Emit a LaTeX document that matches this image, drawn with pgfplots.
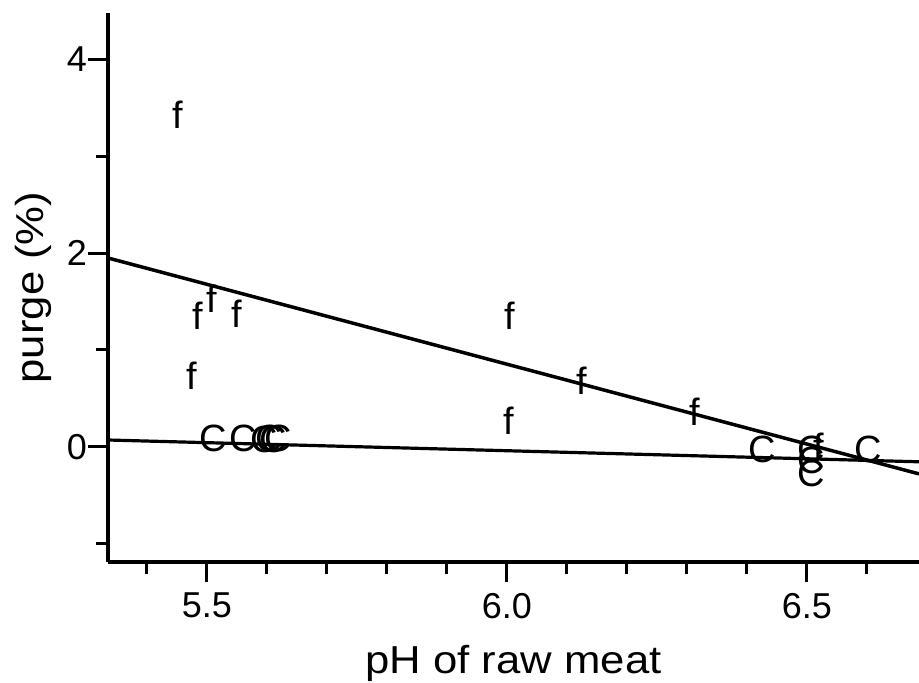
\documentclass[border=0pt]{standalone}
\usepackage{fontspec}
\setmainfont{Liberation Sans}
\newfontfamily\labelfont[FakeStretch=1.12]{Liberation Sans}
\usepackage{pgfplots}
\pgfplotsset{compat=1.18}

% f = fresh samples, C = cooked samples
\pgfplotstableread{
x y
5.452 3.43
5.485 1.35
5.508 1.53
5.550 1.37
5.475 0.73
6.005 1.35
6.003 0.27
6.125 0.68
6.313 0.36
6.520 0.00
}\fdata

\pgfplotstableread{
x y
5.510 0.09
5.560 0.09
5.595 0.08
5.603 0.09
5.611 0.08
5.619 0.09
6.425 -0.03
6.508 -0.03
6.508 -0.14
6.508 -0.27
6.603 -0.03
}\cdata

\begin{document}
\begin{tikzpicture}
\useasboundingbox (0,0) rectangle (459.5pt,341pt);
\begin{axis}[
    at={(54pt,60pt)}, anchor=south west,
    scale only axis,
    width=405.5pt, height=274.5pt,
    xmin=5.335, xmax=6.687,
    ymin=-1.19, ymax=4.48,
    axis x line*=bottom, axis y line*=left,
    axis line style={line width=1.6pt, black},
    xtick={5.5,6.0,6.5},
    minor xtick={5.4,5.6,5.7,5.8,5.9,6.1,6.2,6.3,6.4,6.6},
    ytick={0,2,4},
    minor ytick={-1,1,3},
    tick align=outside,
    major tick length=10pt, minor tick length=6pt,
    tick style={line width=1.5pt, black},
    /pgf/number format/assume math mode=true,
    xticklabel style={/pgf/number format/fixed, /pgf/number format/fixed zerofill, /pgf/number format/precision=1, yshift=-2pt},
    yticklabel style={xshift=3pt},
    ticklabel style={font=\fontsize{18}{18}\selectfont},
    xlabel={pH of raw meat},
    ylabel={purge (\%)},
    label style={font=\labelfont\fontsize{19.5}{20}\selectfont},
    xlabel style={at={(axis description cs:0.5,-0.185)}, anchor=center},
    ylabel style={at={(axis description cs:-0.092,0.5)}, anchor=center},
]
\addplot[black, line width=1.75pt, mark=none] coordinates {(5.335,1.95) (6.687,-0.28)};
\addplot[black, line width=1.6pt, mark=none] coordinates {(5.335,0.07) (6.687,-0.155)};
\addplot[only marks, mark=text, text mark={f}, text mark as node=true,
    text mark style={font=\fontsize{19}{19}\selectfont, inner sep=0pt}] table {\fdata};
\addplot[only marks, mark=text, text mark={C}, text mark as node=true,
    text mark style={font=\fontsize{19}{19}\selectfont, inner sep=0pt}] table {\cdata};
\end{axis}
\end{tikzpicture}
\end{document}
